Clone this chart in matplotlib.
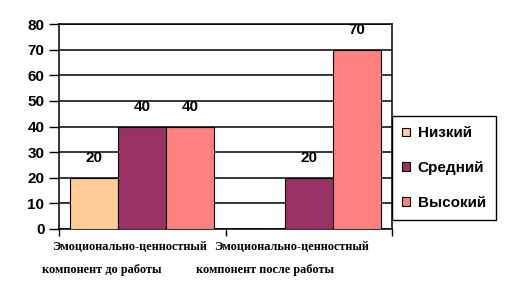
import matplotlib
matplotlib.use('Agg')
import matplotlib.pyplot as plt
import numpy as np

categories = ['Эмоционально-ценностный\nкомпонент до работы',
              'Эмоционально-ценностный\nкомпонент после работы']
series_names = ['Низкий', 'Средний', 'Высокий']
nizkiy = [20, 0]
sredniy = [40, 20]
vysokiy = [40, 70]
colors = ['#FFCC99', '#993366', '#FF8080']
y_ticks = [0, 10, 20, 30, 40, 50, 60, 70, 80]


def main():
    fig = plt.figure(figsize=(5.05, 3.01), dpi=100)
    ax = fig.add_axes([59 / 505, 1 - 229 / 301, 333 / 505, 205 / 301])

    x = np.arange(len(categories))
    width = 0.288
    series = [nizkiy, sredniy, vysokiy]

    handles = []
    for i, vals in enumerate(series):
        pos = x + (i - 1) * width
        bars = ax.bar(pos, vals, width, color=colors[i], edgecolor='black',
                      linewidth=0.8, zorder=3, label=series_names[i])
        handles.append(bars)
        for p, v in zip(pos, vals):
            if v == 0:
                continue
            ax.annotate(str(v), (p, v), xytext=(0, 9), textcoords='offset points',
                        ha='center', va='bottom', fontsize=11, fontweight='bold',
                        family='Liberation Sans', zorder=4)

    ax.set_xlim(-0.5, 1.5)
    ax.set_ylim(0, 80)
    ax.set_yticks(y_ticks)
    ax.yaxis.grid(True, color='black', linewidth=1.1, zorder=0)
    ax.set_axisbelow(True)
    for lab in ax.get_yticklabels():
        lab.set_fontweight('heavy')
        lab.set_fontsize(11)
        lab.set_family('Liberation Sans')
    ax.tick_params(axis='y', length=7, width=1, pad=3.5)

    ax.set_xticks([-0.5, 0.5, 1.5])
    ax.set_xticklabels(['', '', ''])
    ax.tick_params(axis='x', length=5, width=1)

    for s in ax.spines.values():
        s.set_linewidth(1.1)

    # category labels: first line indented a bit, as in the original
    line1_x = [-0.54, 0.43]
    line2_x = [-0.6, 0.32]
    for x1, x2, name in zip(line1_x, line2_x, categories):
        l1, l2 = name.split('\n')
        ax.text(x1, -0.06, l1, transform=ax.get_xaxis_transform(),
                ha='left', va='top', fontsize=8.8, fontweight='bold',
                family='Liberation Serif')
        ax.text(x2, -0.17, l2, transform=ax.get_xaxis_transform(),
                ha='left', va='top', fontsize=8.8, fontweight='bold',
                family='Liberation Serif')

    leg = fig.legend(handles=handles, labels=series_names, loc='center left',
                     bbox_to_anchor=(392 / 505, 1 - 168 / 301), borderaxespad=0,
                     prop={'family': 'Liberation Sans', 'weight': 'bold', 'size': 11},
                     handlelength=0.5, handleheight=0.5, handletextpad=0.5,
                     labelspacing=1.35, borderpad=0.68, fancybox=False,
                     edgecolor='black', framealpha=1)
    leg.get_frame().set_linewidth(1.0)

    fig.savefig('out.png', dpi=100)


if __name__ == '__main__':
    main()
